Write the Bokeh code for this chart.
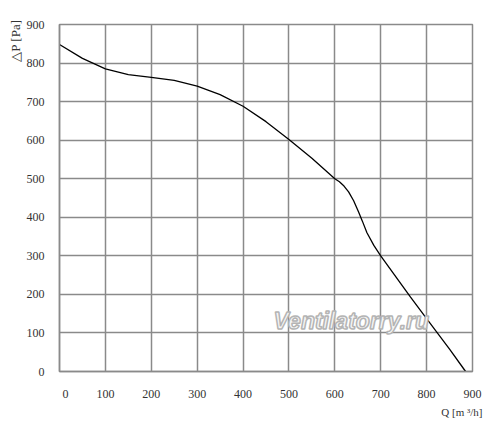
from bokeh.plotting import figure
from bokeh.models import Range1d, Label, FixedTicker, Title
from bokeh.embed import file_html
from bokeh.resources import INLINE

# Data
flow_q = [0, 50, 100, 150, 200, 250, 300, 350, 400, 450, 500, 550, 600, 610, 620, 630, 641, 652, 660, 670, 685, 700, 765, 800, 850, 885]
pressure = [848, 812, 785, 770, 763, 755, 740, 718, 688, 648, 602, 553, 500, 492, 481, 466, 443, 413, 390, 360, 327, 300, 193, 137, 58, 0]
x_ticks = [0, 100, 200, 300, 400, 500, 600, 700, 800, 900]
y_ticks = [0, 100, 200, 300, 400, 500, 600, 700, 800, 900]

FONT = "Liberation Serif"
GRID = "#8a8a8a"
TXT = "#333333"

p = figure(width=500, height=424, frame_width=413, frame_height=347,
           min_border_left=59, min_border_top=24, min_border_right=28, min_border_bottom=53,
           x_range=Range1d(0, 900), y_range=Range1d(0, 900),
           output_backend="svg", toolbar_location=None)

p.background_fill_color = "white"
p.border_fill_color = "white"
p.outline_line_color = GRID
p.outline_line_width = 1.5

for ax in (p.xaxis[0], p.yaxis[0]):
    ax.major_tick_line_color = None
    ax.minor_tick_line_color = None
    ax.axis_line_color = GRID
    ax.axis_line_width = 1.5
    ax.major_label_text_font = FONT
    ax.major_label_text_font_size = "12px"
    ax.major_label_text_color = TXT
    ax.major_label_standoff = 9

p.xaxis[0].ticker = FixedTicker(ticks=x_ticks)
p.yaxis[0].ticker = FixedTicker(ticks=y_ticks)
p.xaxis[0].major_label_overrides = {0: "\u2007\u20070"}

p.xgrid.ticker = FixedTicker(ticks=x_ticks)
p.ygrid.ticker = FixedTicker(ticks=y_ticks)
for g in (p.xgrid[0], p.ygrid[0]):
    g.grid_line_color = GRID
    g.grid_line_width = 1.5

# Watermark
p.add_layout(Label(x=636, y=132, text="Ventilatorry.ru", text_align="center",
                   text_baseline="alphabetic", text_font="Liberation Sans",
                   text_font_style="bold italic", text_font_size="23px",
                   text_color="#f6f6f6", text_outline_color="#b4b4b4"))

p.line(flow_q, pressure, line_color="black", line_width=1.3)

# Axis titles
p.add_layout(Title(text="\u25b3P [Pa]", align="right", text_font=FONT,
                   text_font_size="13px", text_font_style="normal",
                   text_color=TXT, standoff=2, offset=-5), "left")
p.add_layout(Title(text="Q [m \u00b3/h]", align="right", text_font=FONT,
                   text_font_size="11px", text_font_style="normal",
                   text_color=TXT, standoff=0, offset=-10), "below")

open("out.html", "w").write(file_html(p, INLINE))
